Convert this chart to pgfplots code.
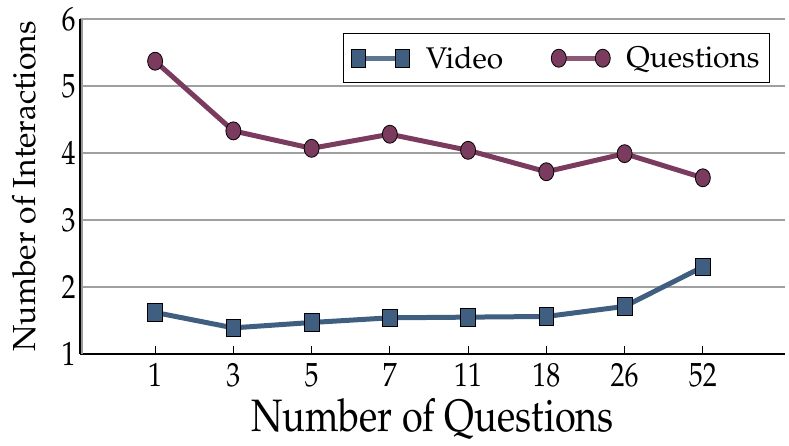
\documentclass[border=0pt]{standalone}
\usepackage[T1]{fontenc}
\usepackage{mathpazo}
\usepackage{pgfplots}
\pgfplotsset{compat=1.18}

\definecolor{vidblue}{RGB}{63,94,128}
\definecolor{qmaroon}{RGB}{122,59,94}

\begin{document}
\begin{tikzpicture}
\begin{axis}[
    scale only axis,
    width=705bp, height=335bp,
    xmin=-0.96, xmax=8.05, ymin=1, ymax=6,
    axis lines=left,
    axis line style={-, line width=1.6bp, black},
    xtick={0,...,7},
    xticklabels={1,3,5,7,11,18,26,52},
    ytick={1,...,6},
    xtick style={black, line width=0.8bp},
    ytick style={draw=none},
    tick align=inside,
    major tick length=8bp,
    ymajorgrids,
    grid style={gray!75, line width=1.2bp},
    ticklabel style={font=\fontsize{28}{28}\selectfont, transform shape, yscale=1.2},
    xticklabel style={yshift=-4bp},
    yticklabel style={xshift=-1bp},
    xlabel={Number of Questions},
    ylabel={Number of Interactions},
    xlabel style={font=\fontsize{38}{38}\selectfont, transform shape, yscale=1.2,
        at={(rel axis cs:0.5,0)}, anchor=base, yshift=-65bp},
    ylabel style={font=\fontsize{32}{32}\selectfont,
        at={(rel axis cs:0,0.5)}, anchor=center, yshift=56bp},
    legend style={at={(rel axis cs:0.979,0.958)}, anchor=north east,
        draw=black, line width=1.2bp, font=\fontsize{30}{30}\selectfont,
        legend columns=2, inner xsep=8bp, inner ysep=11bp,
        /tikz/every odd column/.append style={column sep=14bp},
        /tikz/every even column/.append style={column sep=46bp}},
    legend image code/.code={
        \draw[#1, line width=5bp, opacity=0.85] (0bp,0bp) -- (44bp,0bp);
        \draw[#1, only marks] plot coordinates {(0bp,0bp) (44bp,0bp)};
    },
    clip=false,
    after end axis/.code={
        \draw[gray!80, line width=1.6bp] ([xshift=1.8bp]rel axis cs:0,0) -- ([xshift=1.8bp]rel axis cs:0,1);
    },
]
\addplot[vidblue, line width=5bp, mark=square*, mark size=7.3bp,
    mark options={fill=vidblue, draw=black, line width=0.8bp, yscale=1.2}]
    coordinates {(0,1.62)(1,1.39)(2,1.47)(3,1.54)(4,1.55)(5,1.56)(6,1.71)(7,2.30)};
\addlegendentry{Video}
\addplot[qmaroon, line width=5bp, mark=*, mark size=7.5bp,
    mark options={fill=qmaroon, draw=black, line width=0.8bp, yscale=1.2}]
    coordinates {(0,5.37)(1,4.33)(2,4.07)(3,4.28)(4,4.04)(5,3.72)(6,3.99)(7,3.63)};
\addlegendentry{Questions}
\end{axis}
\pgfresetboundingbox
\useasboundingbox ([shift={(-80bp,-92bp)}]current axis.south west) rectangle ([shift={(4bp,19bp)}]current axis.north east);
\end{tikzpicture}
\end{document}
